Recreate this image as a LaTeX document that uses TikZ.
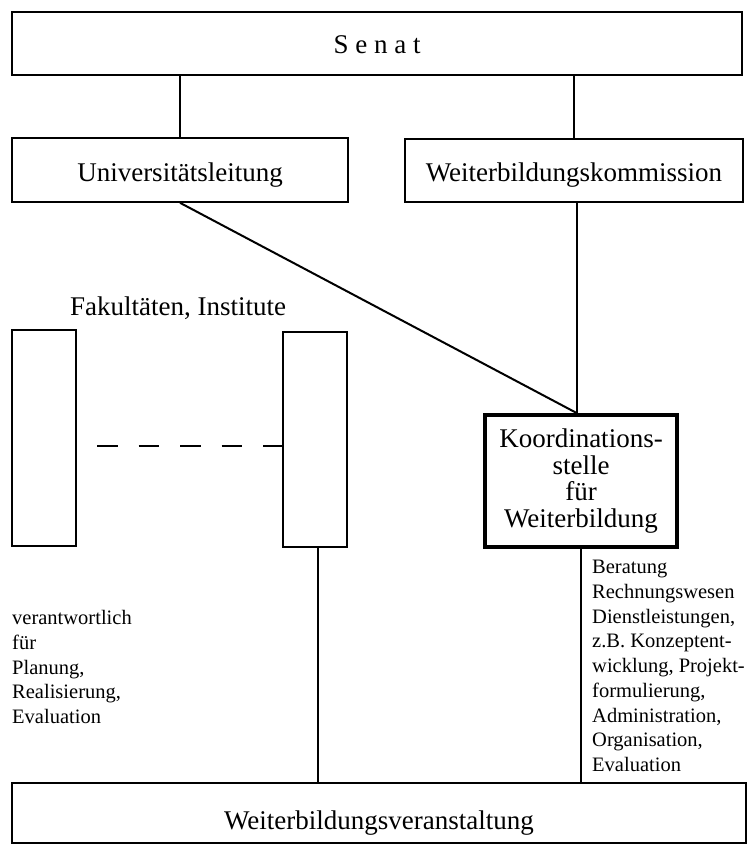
\documentclass[tikz,border=0pt]{standalone}
\usepackage{fontspec}
\setmainfont{Liberation Serif}
\tikzset{
  box/.style={draw, line width=1.6pt, rectangle, inner sep=0pt, align=center,
    font=\fontsize{27}{26.7}\selectfont},
  kbox/.style={box, line width=3.6pt},
  conn/.style={line width=1.6pt},
  thinconn/.style={line width=1.1pt},
  small/.style={inner sep=0pt, align=left, font=\fontsize{20.5}{24.75}\selectfont},
}
\begin{document}
\begin{tikzpicture}[x=1pt,y=-1pt]
\useasboundingbox (0,0) rectangle (750,845);
\node[box, minimum width=730, minimum height=63, text height=22pt, text depth=2pt] (senat) at (377,43.5) {S e n a t};
\node[box, minimum width=336, minimum height=64, text height=25pt, text depth=2pt] (ul) at (180,170) {Universitätsleitung};
\node[box, minimum width=338, minimum height=63, text height=25pt, text depth=2pt] (wk) at (574,170.5) {Weiterbildungskommission};
\node[anchor=base, inner sep=0pt, font=\fontsize{27}{26.7}\selectfont] (fak) at (178,315) {Fakultäten, Institute};
\node[box, minimum width=64, minimum height=216] (fl) at (44,438) {};
\node[box, minimum width=64, minimum height=215] (fr) at (315,439.5) {};
\node[kbox, minimum width=192, minimum height=132] (koord) at (581,481) {Koordinations-\\stelle\\für\\Weiterbildung};
\node[box, minimum width=734, minimum height=60, text height=34pt, text depth=2pt] (wv) at (379,813) {Weiterbildungsveranstaltung};
\node[small, anchor=west] (links) at (12,667) {verantwortlich\\für\\Planung,\\Realisierung,\\Evaluation};
\node[small, anchor=west] (rechts) at (592,666) {Beratung\\Rechnungswesen\\Dienstleistungen,\\z.B. Konzeptent-\\wicklung, Projekt-\\formulierung,\\Administration,\\Organisation,\\Evaluation};
% connectors
\draw[conn] (ul.north) -- (ul.north |- senat.south);
\draw[conn] (wk.north) -- (wk.north |- senat.south);
\coordinate (wkd) at ([xshift=3pt]wk.south);
\coordinate (kt) at (wkd |- koord.north);
\draw[thinconn] (wkd) -- (kt);
\draw[conn, line width=2pt] (ul.south) -- (kt);
\coordinate (dstart) at (97,446);
\draw[conn, dash pattern=on 20.5pt off 21pt] (dstart) -- (dstart -| fr.west);
\coordinate (frd) at ([xshift=3pt]fr.south);
\draw[conn] (frd) -- (frd |- wv.north);
\draw[conn] (koord.south) -- (koord.south |- wv.north);
\end{tikzpicture}
\end{document}
